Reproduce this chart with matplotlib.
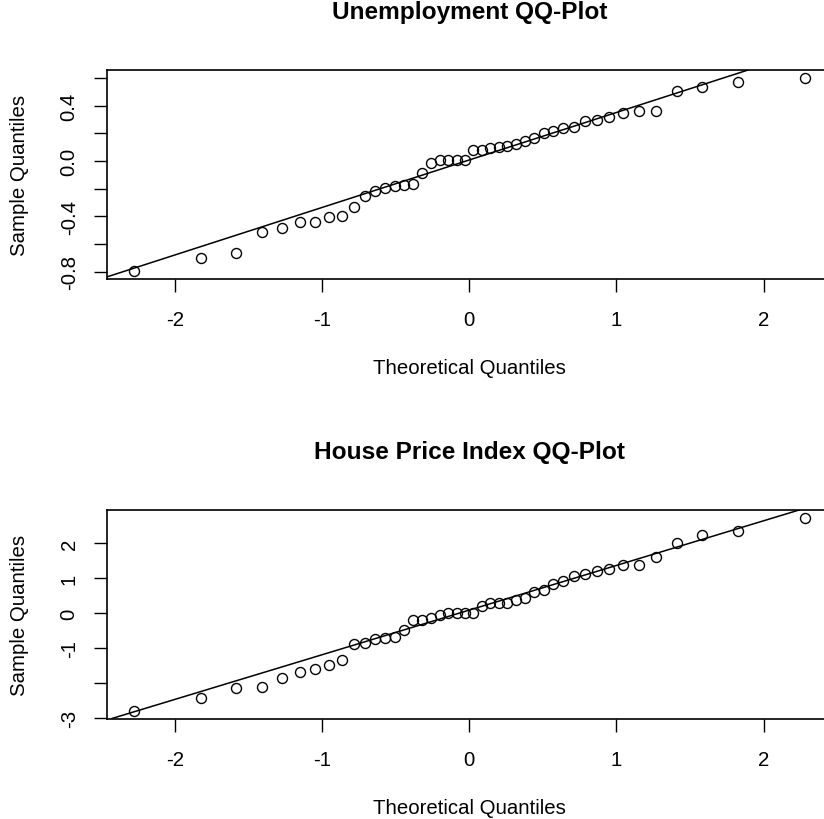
## QQ plots of unemployment and house price index
from statistics import NormalDist
import numpy as np
import matplotlib
matplotlib.use("Agg")
import matplotlib.pyplot as plt

plt.rcParams['font.family'] = ['Liberation Sans', 'DejaVu Sans']

unemployment = [-0.793, -0.703, -0.662, -0.515, -0.484, -0.442, -0.442, -0.404, -0.394, -0.329,
                -0.252, -0.214, -0.197, -0.178, -0.173, -0.168, -0.084, -0.014, 0.010, 0.010,
                0.010, 0.010, 0.078, 0.078, 0.095, 0.100, 0.109, 0.126, 0.143, 0.169,
                0.203, 0.220, 0.237, 0.249, 0.290, 0.299, 0.321, 0.346, 0.360, 0.364,
                0.505, 0.538, 0.572, 0.603]
house_price = [-2.79, -2.42, -2.15, -2.10, -1.85, -1.67, -1.60, -1.49, -1.35, -0.89,
               -0.855, -0.75, -0.70, -0.68, -0.48, -0.21, -0.19, -0.14, -0.066, 0.01,
               0.01, 0.01, 0.01, 0.19, 0.28, 0.28, 0.30, 0.36, 0.42, 0.60,
               0.65, 0.82, 0.91, 1.045, 1.12, 1.20, 1.26, 1.38, 1.38, 1.59,
               2.00, 2.23, 2.34, 2.72]

titles = ["Unemployment QQ-Plot", "House Price Index QQ-Plot"]
x_ticks = [-2, -1, 0, 1, 2]
top_yticks = [-0.8, -0.6, -0.4, -0.2, 0.0, 0.2, 0.4, 0.6]
top_ylabels = ["-0.8", "", "-0.4", "", "0.0", "", "0.4", ""]
bot_yticks = [-3, -2, -1, 0, 1, 2]
bot_ylabels = ["-3", "", "-1", "0", "1", "2"]


def qqplot(ax, sample, title, yticks, ylabels):
    y = np.sort(np.array(sample))
    n = len(y)
    nd = NormalDist()
    x = np.array([nd.inv_cdf((i - 0.5) / n) for i in range(1, n + 1)])

    ax.plot(x, y, 'o', mfc='none', mec='black', ms=7.2, mew=1.0)

    # qqline through the quartiles
    yq = np.quantile(y, [0.25, 0.75])
    xq = np.array([nd.inv_cdf(0.25), nd.inv_cdf(0.75)])
    slope = (yq[1] - yq[0]) / (xq[1] - xq[0])
    icpt = yq[0] - slope * xq[0]
    ax.axline((0, icpt), slope=slope, color='black', lw=1.1)

    # R style 4% padding
    xr = x.max() - x.min()
    yr = y.max() - y.min()
    ax.set_xlim(x.min() - 0.04 * xr, x.max() + 0.04 * xr)
    ax.set_ylim(y.min() - 0.04 * yr, y.max() + 0.04 * yr)

    ax.set_xticks(x_ticks)
    ax.set_xticklabels([str(t) for t in x_ticks])
    ax.set_yticks(yticks)
    ax.set_yticklabels(ylabels)
    ax.tick_params(axis='both', length=9.4, width=1.0, labelsize=14.7, pad=13)
    ax.tick_params(axis='y', labelrotation=90, pad=11)
    for lab in ax.get_yticklabels():
        lab.set_va('center')
    for s in ax.spines.values():
        s.set_linewidth(1.2)

    ax.set_title(title, fontsize=17.6, fontweight='bold', y=1 + 50 / 208.5, va='center')
    ax.set_xlabel("Theoretical Quantiles", fontsize=14.7, va='center')
    ax.xaxis.set_label_coords(0.5, -89 / 208.5)
    ax.set_ylabel("Sample Quantiles", fontsize=14.7, va='center', ha='center')
    ax.yaxis.set_label_coords(-87 / 724.5, 0.5)


fig = plt.figure(figsize=(8.24, 8.20), dpi=100)
# plot region runs past the right edge, as in the original
ax1 = fig.add_axes([107 / 824, 1 - 279.5 / 820, 724.5 / 824, 208.5 / 820])
ax2 = fig.add_axes([107 / 824, 1 - 719.5 / 820, 724.5 / 824, 208.5 / 820])

qqplot(ax1, unemployment, titles[0], top_yticks, top_ylabels)
qqplot(ax2, house_price, titles[1], bot_yticks, bot_ylabels)

fig.savefig("out.png", dpi=100)
